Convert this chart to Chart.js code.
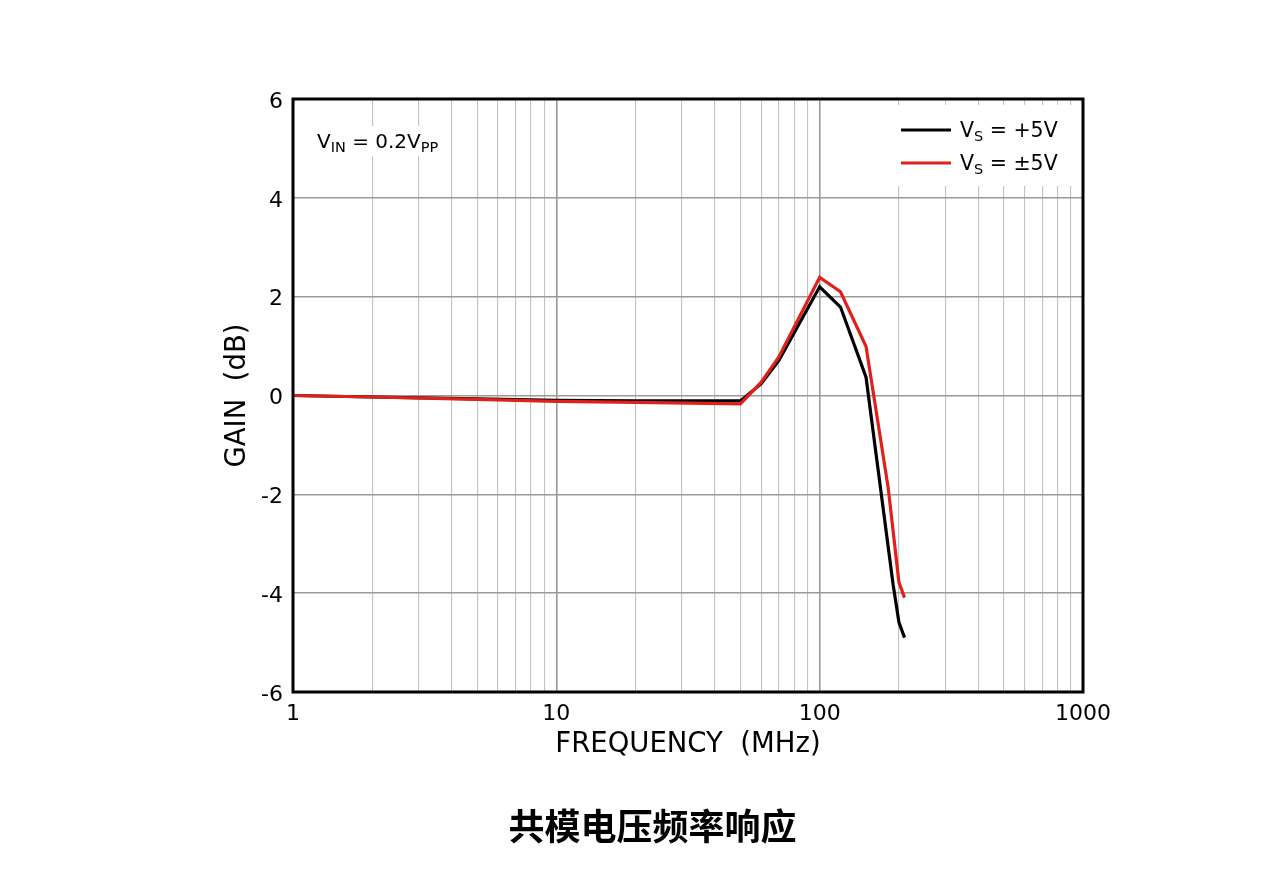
<!DOCTYPE html>
<html>
<head>
<meta charset="utf-8">
<script src="https://cdn.jsdelivr.net/npm/chart.js@4.4.1/dist/chart.umd.min.js"></script>
<style>
html,body{margin:0;padding:0;background:#fff;}
#wrap{position:relative;width:1280px;height:875px;}
#c{position:absolute;left:0;top:0;}
#title{position:absolute;left:0;width:1305px;top:798px;text-align:center;font-family:"Noto Sans CJK SC";font-weight:bold;font-size:36px;color:#000;}
</style>
</head>
<body>
<div id="wrap">
<canvas id="c" width="1280" height="875"></canvas>
<div id="title">共模电压频率响应</div>
</div>
<script>
// ---- data ----
const freqBlack = [1, 2, 5, 10, 20, 50, 60, 70, 100, 120, 150, 190, 200, 210];
const gainBlack = [0, -0.03, -0.07, -0.10, -0.11, -0.11, 0.24, 0.71, 2.2, 1.79, 0.37, -3.82, -4.59, -4.9];
const freqRed = [1, 2, 5, 10, 20, 50, 60, 70, 100, 120, 150, 182, 200, 210];
const gainRed = [0, -0.03, -0.08, -0.12, -0.14, -0.17, 0.27, 0.78, 2.39, 2.1, 0.99, -1.86, -3.78, -4.09];
const seriesSub = ['S', 'S'];
const seriesRest = [' = +5V', ' = \u00B15V'];
const seriesColors = ['#000000', '#e0201b'];
const xTickValues = [1,2,3,4,5,6,7,8,9,10,20,30,40,50,60,70,80,90,100,200,300,400,500,600,700,800,900,1000];
const xLabelValues = [1, 10, 100, 1000];
const yMin = -6, yMax = 6, yStep = 2;
const xTitle = 'FREQUENCY  (MHz)';
const yTitle = 'GAIN  (dB)';
const noteMain = 'V', noteSub1 = 'IN', noteMid = ' = 0.2V', noteSub2 = 'PP';

const toPts = (f, g) => f.map((v, i) => ({x: v, y: g[i]}));
const FONT = '"DejaVu Sans", sans-serif';

function drawRich(ctx, x, y, parts) {
  ctx.textBaseline = 'alphabetic';
  ctx.textAlign = 'left';
  for (const [t, s, dy] of parts) {
    ctx.font = s + 'px ' + FONT;
    ctx.fillText(t, x, y + dy);
    x += ctx.measureText(t).width;
  }
  return x;
}

const overlay = {
  id: 'overlay',
  afterDatasetsDraw(chart) {
    const ctx = chart.ctx;
    const a = chart.chartArea;
    ctx.save();
    // legend box
    ctx.fillStyle = '#fff';
    ctx.fillRect(a.right - 190, a.top + 6, 190, 81);
    chart.data.datasets.slice().sort((p, q) => p.legendIndex - q.legendIndex).forEach((ds, i) => {
      const y = a.top + 31 + i * 33;
      ctx.strokeStyle = ds.borderColor;
      ctx.lineWidth = 3;
      ctx.beginPath();
      ctx.moveTo(a.right - 182, y);
      ctx.lineTo(a.right - 132, y);
      ctx.stroke();
      ctx.fillStyle = '#000';
      drawRich(ctx, a.right - 123, y + 7, [['V', 20.5, 0], [seriesSub[ds.legendIndex], 14.5, 4], [seriesRest[ds.legendIndex], 20.5, 0]]);
    });
    // annotation
    ctx.fillStyle = '#fff';
    ctx.fillRect(a.left + 22, a.top + 27, 126, 30);
    ctx.fillStyle = '#000';
    drawRich(ctx, a.left + 24, a.top + 49, [[noteMain, 20, 0], [noteSub1, 14.5, 4], [noteMid, 20, 0], [noteSub2, 14.5, 4]]);
    // frame
    ctx.strokeStyle = '#000';
    ctx.lineWidth = 3;
    ctx.strokeRect(a.left, a.top, a.right - a.left, a.bottom - a.top);
    ctx.restore();
  }
};

new Chart(document.getElementById('c'), {
  type: 'line',
  data: {
    datasets: [
      {label: 'VS = ±5V', legendIndex: 1, data: toPts(freqRed, gainRed), borderColor: seriesColors[1], borderWidth: 3.2, pointRadius: 0, tension: 0, fill: false},
      {label: 'VS = +5V', legendIndex: 0, data: toPts(freqBlack, gainBlack), borderColor: seriesColors[0], borderWidth: 3.2, pointRadius: 0, tension: 0, fill: false}
    ]
  },
  options: {
    responsive: false,
    animation: false,
    devicePixelRatio: 1,
    layout: {padding: {left: 217, top: 99, right: 197, bottom: 110}},
    plugins: {legend: {display: false}, tooltip: {enabled: false}},
    scales: {
      x: {
        type: 'logarithmic',
        min: 1, max: 1000,
        afterBuildTicks(s) { s.ticks = xTickValues.map(v => ({value: v})); },
        afterFit(s) { s.height = 73; },
        ticks: {
          autoSkip: false, maxRotation: 0, padding: 9, color: '#000',
          font: {family: FONT, size: 22},
          callback(v) { return xLabelValues.includes(v) ? String(v) : ''; }
        },
        grid: {
          drawTicks: false,
          color(c) { return xLabelValues.includes(c.tick && c.tick.value) ? '#9a9a9a' : '#c2c2c2'; },
          lineWidth(c) { return xLabelValues.includes(c.tick && c.tick.value) ? 1.6 : 1.1; }
        },
        border: {display: false},
        title: {display: true, text: xTitle, color: '#000', font: {family: FONT, size: 27.5}, padding: {top: 4, bottom: 4}}
      },
      y: {
        min: yMin, max: yMax,
        afterFit(s) { s.width = 76; },
        ticks: {stepSize: yStep, padding: 10, labelOffset: 3, color: '#000', font: {family: FONT, size: 22}},
        grid: {drawTicks: false, color: '#9a9a9a', lineWidth: 1.6},
        border: {display: false},
        title: {display: true, text: yTitle, color: '#000', font: {family: FONT, size: 27.5}, padding: {top: 4, bottom: 4}}
      }
    }
  },
  plugins: [overlay]
});
</script>
</body>
</html>
